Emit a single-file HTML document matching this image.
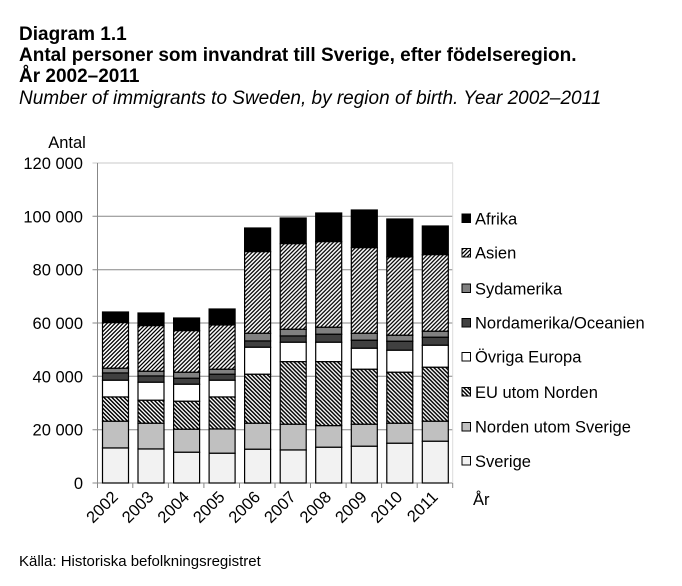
<!DOCTYPE html>
<html><head><meta charset="utf-8"><style>
html,body{margin:0;padding:0;background:#fff;}
svg{display:block;}
text{font-family:"Liberation Sans",Arial,sans-serif;fill:#000;}
</style></head><body>
<svg width="682" height="586" viewBox="0 0 682 586" xmlns="http://www.w3.org/2000/svg">
<defs>
<pattern id="asien" width="4" height="4" patternUnits="userSpaceOnUse"><rect width="4" height="4" fill="#fff"/><path d="M-1,1 L1,-1 M0,4 L4,0 M3,5 L5,3" stroke="#000" stroke-width="1.3"/></pattern>
<pattern id="eu" width="4" height="4" patternUnits="userSpaceOnUse"><rect width="4" height="4" fill="#fff"/><path d="M-1,3 L1,5 M0,0 L4,4 M3,-1 L5,1" stroke="#000" stroke-width="1.5"/></pattern>
</defs>

<text x="19" y="40" font-size="19" font-weight="bold">Diagram 1.1</text>
<text x="19" y="61" font-size="19" font-weight="bold">Antal personer som invandrat till Sverige, efter födelseregion.</text>
<text x="19" y="82" font-size="19" font-weight="bold">År 2002–2011</text>
<text x="19" y="104" font-size="19" font-style="italic">Number of immigrants to Sweden, by region of birth. Year 2002–2011</text>

<text x="67" y="148" font-size="16.5" text-anchor="middle">Antal</text>

<g stroke="#878787" stroke-width="1" fill="none">
<line x1="92.5" y1="163" x2="453" y2="163" stroke="#c8c8c8"/>
<line x1="92.5" y1="216.3" x2="453" y2="216.3"/>
<line x1="92.5" y1="269.7" x2="453" y2="269.7"/>
<line x1="92.5" y1="323" x2="453" y2="323"/>
<line x1="92.5" y1="376.3" x2="453" y2="376.3"/>
<line x1="92.5" y1="429.7" x2="453" y2="429.7"/>
<line x1="92.5" y1="483" x2="453" y2="483"/>
<line x1="97.5" y1="163" x2="97.5" y2="488"/>
<line x1="452.7" y1="163" x2="452.7" y2="483" stroke="#dcdcdc"/>
<line x1="132.8" y1="483" x2="132.8" y2="488"/>
<line x1="168.4" y1="483" x2="168.4" y2="488"/>
<line x1="203.9" y1="483" x2="203.9" y2="488"/>
<line x1="239.5" y1="483" x2="239.5" y2="488"/>
<line x1="275" y1="483" x2="275" y2="488"/>
<line x1="310.5" y1="483" x2="310.5" y2="488"/>
<line x1="346.1" y1="483" x2="346.1" y2="488"/>
<line x1="381.6" y1="483" x2="381.6" y2="488"/>
<line x1="417.2" y1="483" x2="417.2" y2="488"/>
<line x1="452.7" y1="483" x2="452.7" y2="488"/>
</g>

<g font-size="16.5" text-anchor="end">
<text x="83" y="169">120 000</text>
<text x="83" y="222.3">100 000</text>
<text x="83" y="275.7">80 000</text>
<text x="83" y="329">60 000</text>
<text x="83" y="382.3">40 000</text>
<text x="83" y="435.7">20 000</text>
<text x="83" y="489">0</text>
</g>

<g stroke="#000" stroke-width="1.2">
<!-- 2002 -->
<g transform="translate(102.5,0)">
<rect x="0" y="312" width="26" height="10.7" fill="#000"/>
<rect x="0" y="322.7" width="26" height="45.6" fill="url(#asien)"/>
<rect x="0" y="368.3" width="26" height="4.7" fill="#808080"/>
<rect x="0" y="373" width="26" height="7.3" fill="#404040"/>
<rect x="0" y="380.3" width="26" height="16.7" fill="#fff"/>
<rect x="0" y="397" width="26" height="24.3" fill="url(#eu)"/>
<rect x="0" y="421.3" width="26" height="26.7" fill="#c0c0c0"/>
<rect x="0" y="448" width="26" height="35" fill="#f2f2f2"/>
</g>
<!-- 2003 -->
<g transform="translate(138,0)">
<rect x="0" y="313" width="26" height="12.7" fill="#000"/>
<rect x="0" y="325.7" width="26" height="45.6" fill="url(#asien)"/>
<rect x="0" y="371.3" width="26" height="4.7" fill="#808080"/>
<rect x="0" y="376" width="26" height="6.3" fill="#404040"/>
<rect x="0" y="382.3" width="26" height="18" fill="#fff"/>
<rect x="0" y="400.3" width="26" height="23" fill="url(#eu)"/>
<rect x="0" y="423.3" width="26" height="25.7" fill="#c0c0c0"/>
<rect x="0" y="449" width="26" height="34" fill="#f2f2f2"/>
</g>
<!-- 2004 -->
<g transform="translate(173.6,0)">
<rect x="0" y="318" width="26" height="12.7" fill="#000"/>
<rect x="0" y="330.7" width="26" height="41.6" fill="url(#asien)"/>
<rect x="0" y="372.3" width="26" height="6" fill="#808080"/>
<rect x="0" y="378.3" width="26" height="6" fill="#404040"/>
<rect x="0" y="384.3" width="26" height="17" fill="#fff"/>
<rect x="0" y="401.3" width="26" height="28" fill="url(#eu)"/>
<rect x="0" y="429.3" width="26" height="23" fill="#c0c0c0"/>
<rect x="0" y="452.3" width="26" height="30.7" fill="#f2f2f2"/>
</g>
<!-- 2005 -->
<g transform="translate(209.1,0)">
<rect x="0" y="309" width="26" height="16" fill="#000"/>
<rect x="0" y="325" width="26" height="44.3" fill="url(#asien)"/>
<rect x="0" y="369.3" width="26" height="5" fill="#808080"/>
<rect x="0" y="374.3" width="26" height="6" fill="#404040"/>
<rect x="0" y="380.3" width="26" height="16.7" fill="#fff"/>
<rect x="0" y="397" width="26" height="32" fill="url(#eu)"/>
<rect x="0" y="429" width="26" height="24.3" fill="#c0c0c0"/>
<rect x="0" y="453.3" width="26" height="29.7" fill="#f2f2f2"/>
</g>
<!-- 2006 -->
<g transform="translate(244.6,0)">
<rect x="0" y="228" width="26" height="23.7" fill="#000"/>
<rect x="0" y="251.7" width="26" height="81.6" fill="url(#asien)"/>
<rect x="0" y="333.3" width="26" height="7.7" fill="#808080"/>
<rect x="0" y="341" width="26" height="6.3" fill="#404040"/>
<rect x="0" y="347.3" width="26" height="27" fill="#fff"/>
<rect x="0" y="374.3" width="26" height="49" fill="url(#eu)"/>
<rect x="0" y="423.3" width="26" height="26" fill="#c0c0c0"/>
<rect x="0" y="449.3" width="26" height="33.7" fill="#f2f2f2"/>
</g>
<!-- 2007 -->
<g transform="translate(280.2,0)">
<rect x="0" y="218" width="26" height="25.7" fill="#000"/>
<rect x="0" y="243.7" width="26" height="85.6" fill="url(#asien)"/>
<rect x="0" y="329.3" width="26" height="6.7" fill="#808080"/>
<rect x="0" y="336" width="26" height="6.3" fill="#404040"/>
<rect x="0" y="342.3" width="26" height="19.4" fill="#fff"/>
<rect x="0" y="361.7" width="26" height="62.6" fill="url(#eu)"/>
<rect x="0" y="424.3" width="26" height="25.7" fill="#c0c0c0"/>
<rect x="0" y="450" width="26" height="33" fill="#f2f2f2"/>
</g>
<!-- 2008 -->
<g transform="translate(315.7,0)">
<rect x="0" y="213" width="26" height="28.7" fill="#000"/>
<rect x="0" y="241.7" width="26" height="85.6" fill="url(#asien)"/>
<rect x="0" y="327.3" width="26" height="7" fill="#808080"/>
<rect x="0" y="334.3" width="26" height="8" fill="#404040"/>
<rect x="0" y="342.3" width="26" height="19.4" fill="#fff"/>
<rect x="0" y="361.7" width="26" height="64" fill="url(#eu)"/>
<rect x="0" y="425.7" width="26" height="21.6" fill="#c0c0c0"/>
<rect x="0" y="447.3" width="26" height="35.7" fill="#f2f2f2"/>
</g>
<!-- 2009 -->
<g transform="translate(351.3,0)">
<rect x="0" y="210" width="26" height="37.7" fill="#000"/>
<rect x="0" y="247.7" width="26" height="85.6" fill="url(#asien)"/>
<rect x="0" y="333.3" width="26" height="7" fill="#808080"/>
<rect x="0" y="340.3" width="26" height="8" fill="#404040"/>
<rect x="0" y="348.3" width="26" height="21" fill="#fff"/>
<rect x="0" y="369.3" width="26" height="55" fill="url(#eu)"/>
<rect x="0" y="424.3" width="26" height="22" fill="#c0c0c0"/>
<rect x="0" y="446.3" width="26" height="36.7" fill="#f2f2f2"/>
</g>
<!-- 2010 -->
<g transform="translate(386.8,0)">
<rect x="0" y="219" width="26" height="38" fill="#000"/>
<rect x="0" y="257" width="26" height="78.3" fill="url(#asien)"/>
<rect x="0" y="335.3" width="26" height="6" fill="#808080"/>
<rect x="0" y="341.3" width="26" height="9" fill="#404040"/>
<rect x="0" y="350.3" width="26" height="22" fill="#fff"/>
<rect x="0" y="372.3" width="26" height="51" fill="url(#eu)"/>
<rect x="0" y="423.3" width="26" height="20" fill="#c0c0c0"/>
<rect x="0" y="443.3" width="26" height="39.7" fill="#f2f2f2"/>
</g>
<!-- 2011 -->
<g transform="translate(422.3,0)">
<rect x="0" y="226" width="26" height="28.7" fill="#000"/>
<rect x="0" y="254.7" width="26" height="76.6" fill="url(#asien)"/>
<rect x="0" y="331.3" width="26" height="6" fill="#808080"/>
<rect x="0" y="337.3" width="26" height="8" fill="#404040"/>
<rect x="0" y="345.3" width="26" height="22" fill="#fff"/>
<rect x="0" y="367.3" width="26" height="54" fill="url(#eu)"/>
<rect x="0" y="421.3" width="26" height="20" fill="#c0c0c0"/>
<rect x="0" y="441.3" width="26" height="41.7" fill="#f2f2f2"/>
</g>
</g>

<g font-size="16.5" text-anchor="end">
<text transform="translate(119,498) rotate(-45)">2002</text>
<text transform="translate(154.6,498) rotate(-45)">2003</text>
<text transform="translate(190.2,498) rotate(-45)">2004</text>
<text transform="translate(225.7,498) rotate(-45)">2005</text>
<text transform="translate(261.2,498) rotate(-45)">2006</text>
<text transform="translate(296.8,498) rotate(-45)">2007</text>
<text transform="translate(332.3,498) rotate(-45)">2008</text>
<text transform="translate(367.9,498) rotate(-45)">2009</text>
<text transform="translate(403.4,498) rotate(-45)">2010</text>
<text transform="translate(438.9,498) rotate(-45)">2011</text>
</g>

<g stroke="#000" stroke-width="1">
<rect x="462" y="214" width="8.5" height="8.5" fill="#000"/>
<rect x="462" y="248.5" width="8.5" height="8.5" fill="url(#asien)"/>
<rect x="462" y="284" width="8.5" height="8.5" fill="#808080"/>
<rect x="462" y="318.5" width="8.5" height="8.5" fill="#404040"/>
<rect x="462" y="352.5" width="8.5" height="8.5" fill="#fff"/>
<rect x="462" y="387.5" width="8.5" height="8.5" fill="url(#eu)"/>
<rect x="462" y="422.5" width="8.5" height="8.5" fill="#c0c0c0"/>
<rect x="462" y="456.5" width="8.5" height="8.5" fill="#f2f2f2"/>
</g>
<g font-size="16.5">
<text x="475" y="224.3">Afrika</text>
<text x="475" y="258.7">Asien</text>
<text x="475" y="294.3">Sydamerika</text>
<text x="475" y="328.7">Nordamerika/Oceanien</text>
<text x="475" y="362.7">Övriga Europa</text>
<text x="475" y="398">EU utom Norden</text>
<text x="475" y="432.7">Norden utom Sverige</text>
<text x="475" y="467">Sverige</text>
<text x="473" y="505">År</text>
</g>

<text x="19" y="566" font-size="15">Källa: Historiska befolkningsregistret</text>
</svg>
</body></html>
